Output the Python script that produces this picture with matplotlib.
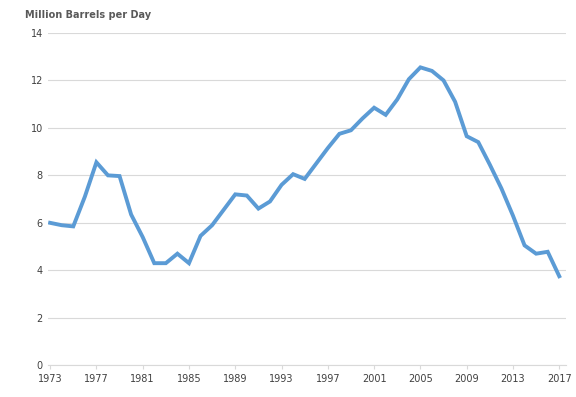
import matplotlib.pyplot as plt

years = list(range(1973, 2018))
production = [6.0, 5.9, 5.85, 7.1, 8.55, 8.0, 7.97, 6.35, 5.4, 4.3,
              4.3, 4.7, 4.3, 5.45, 5.9, 6.55, 7.2, 7.15, 6.6, 6.9,
              7.6, 8.05, 7.85, 8.5, 9.15, 9.75, 9.9, 10.4, 10.85, 10.55,
              11.2, 12.05, 12.55, 12.4, 12.0, 11.1, 9.65, 9.4, 8.45, 7.45,
              6.3, 5.05, 4.7, 4.78, 3.75]
tick_years = list(range(1973, 2018, 4))
y_ticks = [0, 2, 4, 6, 8, 10, 12, 14]

fig = plt.figure(figsize=(5.76, 3.97), dpi=100)
ax = fig.add_axes([0.083, 0.08, 0.90, 0.837])

ax.plot(years, production, color='#5b9bd5', linewidth=2.8, solid_joinstyle='miter')

ax.set_xlim(1972.8, 2017.6)
ax.set_ylim(0, 14)
ax.set_xticks(tick_years)
ax.set_yticks(y_ticks)
ax.tick_params(axis='both', labelsize=7, colors='#404040', length=0)
ax.tick_params(axis='x', length=3, color='#d9d9d9')
ax.grid(axis='y', color='#d9d9d9', linewidth=0.8)
ax.set_axisbelow(True)
for side in ['top', 'right', 'left']:
    ax.spines[side].set_visible(False)
ax.spines['bottom'].set_color('#d9d9d9')

fig.text(0.043, 0.955, 'Million Barrels per Day', fontsize=7, fontweight='bold', color='#595959')

fig.savefig('out.png', dpi=100)
